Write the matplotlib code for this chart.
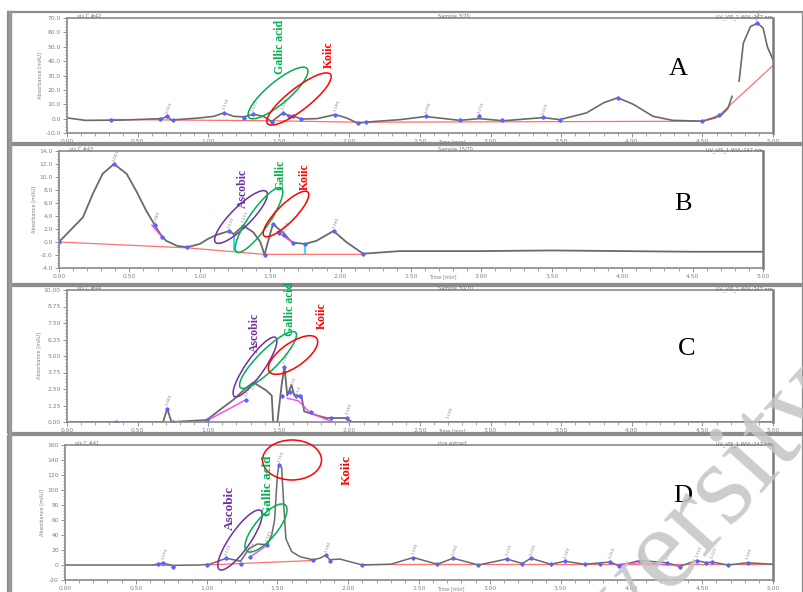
import matplotlib
matplotlib.use("Agg")
import matplotlib.pyplot as plt
from matplotlib.patches import Ellipse, Rectangle
from matplotlib.ticker import AutoMinorLocator

W, H = 804, 592

# ---- shared x axis (retention time, min)
x_ticks = [0.0, 0.5, 1.0, 1.5, 2.0, 2.5, 3.0, 3.5, 4.0, 4.5, 5.0]
x_tick_labels = ["0.00", "0.50", "1.00", "1.50", "2.00", "2.50", "3.00", "3.50", "4.00", "4.50", "5.00"]

# ---- panel A (Sample 3/70)
A_t = [0.00, 0.13, 0.40, 0.67, 0.71, 0.74, 0.94, 1.04, 1.11, 1.18, 1.25, 1.32, 1.39, 1.45,
       1.53, 1.58, 1.60, 1.66, 1.77, 1.90, 1.98, 2.06, 2.12, 2.36, 2.54, 2.78, 2.92, 3.09,
       3.37, 3.49, 3.68, 3.80, 3.90, 4.01, 4.15, 4.29, 4.50, 4.59, 4.64, 4.68, 4.71]
A_v = [0.5, -1.2, -1.0, 0.0, 1.5, -1.0, 0.5, 1.6, 4.0, 1.6, 1.2, 3.0, 1.6, -2.0,
       4.0, 1.6, 2.0, -0.3, 0.0, 2.8, 0.5, -3.2, -2.4, -0.7, 1.5, -1.2, 0.0, -1.5,
       0.7, -0.7, 4.0, 11.0, 14.5, 10.0, 1.6, -1.2, -1.8, 0.5, 3.0, 7.0, 15.5]
A2_t = [4.76, 4.79, 4.84, 4.89, 4.93, 4.96, 5.00]
A2_v = [26.0, 52.5, 64.0, 66.4, 63.0, 50.0, 41.0]
A_base_t = [0.30, 1.45, 2.06, 4.50, 4.62, 5.00]
A_base_v = [-0.6, -1.5, -2.5, -1.8, 2.5, 37.0]
A_mark_t = [0.31, 0.66, 0.71, 0.75, 1.11, 1.25, 1.32, 1.45, 1.53, 1.57, 1.60, 1.66, 1.90,
            2.06, 2.12, 2.54, 2.78, 2.92, 3.08, 3.37, 3.49, 3.90, 4.50, 4.62, 4.89]
A_mark_v = [-0.7, 0.0, 1.5, -1.0, 4.0, 0.5, 3.0, -2.0, 4.0, 1.8, 2.0, -0.3, 2.8,
            -3.2, -2.4, 1.5, -0.8, 1.5, -1.0, 1.0, -0.8, 14.5, -1.8, 2.5, 66.4]
A_lab_t = [0.71, 1.11, 1.32, 1.53, 1.90, 2.54, 2.92, 3.37, 4.89]
A_lab_v = [1.5, 4.0, 3.0, 4.0, 2.8, 1.5, 1.5, 1.0, 66.4]
A_lab = ["1.020", "1.110", "1.123", "1.143", "1.180", "1.200", "1.210", "1.220", "1.487"]

# ---- panel B (Sample 15/70)
B_t = [0.00, 0.17, 0.24, 0.31, 0.39, 0.48, 0.55, 0.62, 0.68, 0.72, 0.76, 0.84, 0.91, 1.00,
       1.06, 1.12, 1.21, 1.24, 1.31, 1.38, 1.43, 1.46, 1.48, 1.52, 1.56, 1.59, 1.63, 1.66,
       1.75, 1.83, 1.95, 2.04, 2.16, 2.42, 3.00, 3.50, 4.00, 4.50, 5.00]
B_v = [0.0, 3.8, 7.4, 10.5, 12.0, 10.5, 7.8, 4.8, 2.6, 1.2, 0.2, -0.6, -0.8, -0.3,
       0.5, 1.1, 1.7, 1.2, 2.5, 1.5, 0.0, -2.0, -0.3, 2.8, 2.0, 1.5, 0.5, -0.1,
       -0.3, 0.2, 1.7, 0.0, -1.8, -1.4, -1.4, -1.3, -1.4, -1.5, -1.5]
B_base_t = [0.00, 0.91, 1.46, 2.16]
B_base_v = [0.0, -0.9, -1.9, -1.9]
B_mark_t = [0.00, 0.39, 0.68, 0.73, 0.91, 1.21, 1.31, 1.46, 1.52, 1.56, 1.60, 1.66, 1.75, 1.95, 2.16]
B_mark_v = [0.0, 12.0, 2.6, 0.8, -0.8, 1.7, 2.5, -2.0, 2.8, 1.4, 1.0, -0.1, -0.3, 1.7, -1.8]
B_lab_t = [0.39, 0.68, 1.21, 1.31, 1.52, 1.60, 1.95]
B_lab_v = [12.0, 2.6, 1.7, 2.5, 2.8, 1.0, 1.7]
B_lab = ["1.043", "1.080", "1.110", "1.123", "1.143", "1.150", "1.180"]
B_cyan_t = [1.24, 1.75]
B_cyan_lo = [-1.6, -1.9]
B_cyan_hi = [1.0, -0.3]

# ---- panel C (Sample 30/70)
C_t = [0.00, 0.35, 0.68, 0.71, 0.74, 0.99, 1.08, 1.18, 1.27, 1.32, 1.35, 1.41, 1.45, 1.46,
       1.49, 1.52, 1.54, 1.56, 1.59, 1.61, 1.66, 1.68, 1.77, 1.84, 1.97, 2.02, 5.00]
C_v = [0.0, 0.0, 0.0, 1.0, 0.0, 0.15, 0.9, 1.7, 2.6, 3.0, 2.8, 2.4, 2.0, 0.0,
       0.0, 2.8, 4.2, 2.0, 2.8, 2.0, 2.0, 0.8, 0.5, 0.3, 0.3, 0.0, 0.0]
C_base_t = [0.35, 0.75]
C_base_v = [0.0, 0.0]
C_mag1_t = [0.99, 1.27]
C_mag1_v = [0.1, 1.7]
C_mag2_t = [1.56, 1.64, 1.72, 1.88]
C_mag2_v = [1.8, 1.6, 0.7, 0.0]
C_mark_t = [0.35, 0.71, 0.75, 0.99, 1.27, 1.54, 1.52, 1.58, 1.62, 1.65, 1.73, 1.87, 1.98]
C_mark_v = [0.0, 1.0, 0.0, 0.15, 1.7, 4.2, 2.0, 2.3, 2.0, 2.0, 0.75, 0.3, 0.3]
C_lab_t = [0.71, 1.27, 1.32, 1.54, 1.59, 1.62, 1.98, 2.70]
C_lab_v = [1.0, 1.7, 2.2, 4.2, 2.3, 1.6, 0.3, 0.0]
C_lab = ["1.080", "1.110", "1.123", "1.143", "1.150", "1.153", "1.180", "1.190"]

# ---- panel D (rice extract)
D_t = [0.00, 0.62, 0.69, 0.76, 0.95, 1.02, 1.14, 1.24, 1.30, 1.36, 1.43, 1.46, 1.48, 1.50,
       1.51, 1.53, 1.545, 1.56, 1.60, 1.66, 1.75, 1.80, 1.84, 1.87, 1.94, 2.00, 2.10, 2.30,
       2.46, 2.63, 2.74, 2.92, 3.12, 3.23, 3.29, 3.43, 3.53, 3.67, 3.85, 3.91, 4.06, 4.25,
       4.34, 4.46, 4.53, 4.57, 4.68, 4.82, 5.00]
D_v = [0, 0, 2.5, -0.5, 0, 1, 9, 5, 22, 28, 27, 40, 60, 120,
       133, 130, 80, 35, 18, 11, 7, 9, 13, 7, 8, 5, 0, 1,
       10, 1, 9, 0, 8, 2, 9, 1, 5, 1, 4, -1, 6, 3,
       -2, 6, 3, 4, 0, 3, 1]
D_base1_t = [0.62, 0.78]
D_base1_v = [0.0, -1.0]
D_base2_t = [1.00, 1.75]
D_base2_v = [0.0, 6.0]
D_base3_t = [2.10, 5.00]
D_base3_v = [1.0, 1.0]
D_mag_t = [1.31, 1.43]
D_mag_v = [11.0, 27.0]
D_mag2_t = [3.91, 4.06, 4.34]
D_mag2_v = [1.0, 3.0, -1.0]
D_mark_t = [0.66, 0.69, 0.76, 1.00, 1.14, 1.24, 1.31, 1.43, 1.51, 1.75, 1.84, 1.87, 2.10,
            2.46, 2.63, 2.74, 2.92, 3.12, 3.23, 3.29, 3.43, 3.53, 3.67, 3.78, 3.85, 3.91,
            4.06, 4.25, 4.34, 4.46, 4.53, 4.57, 4.68, 4.82]
D_mark_v = [1, 3, -2.5, 0, 9, 2, 11, 27, 133, 7, 13, 5, 0,
            10, 1, 9, 0, 8, 2, 9, 1, 5, 1, 2, 4, -1,
            6, 3, -2, 6, 3, 4, 0, 3]
D_lab_t = [0.69, 1.14, 1.31, 1.43, 1.51, 1.84, 2.46, 2.74, 3.12, 3.29, 3.53, 3.85, 4.06, 4.25, 4.46, 4.57, 4.82]
D_lab_v = [3, 9, 11, 27, 133, 13, 10, 9, 8, 9, 5, 4, 6, 3, 6, 4, 3]
D_lab = ["1.070", "1.110", "1.123", "1.143", "1.150", "1.180", "1.190", "1.200", "1.210",
         "1.220", "1.240", "1.260", "1.280", "1.300", "1.310", "1.320", "1.330"]

GREY = "#6a6a6a"
RED = "#ff7070"
BLUE = "#5a64ff"
MAG = "#ff40ff"
TICKC = "#808080"
PURPLE = "#7030a0"
GREEN = "#00b050"
TRED = "#ff0000"

fig = plt.figure(figsize=(W / 100, H / 100), dpi=100)
fig.patch.set_facecolor("white")


def px_axes(x0, y0, x1, y1):
    return fig.add_axes([x0 / W, 1 - y1 / H, (x1 - x0) / W, (y1 - y0) / H])


def setup(ax, box, ylim, yticks, ylabels):
    ax.set_xlim(0.0, 5.0)
    ax.set_ylim(*ylim)
    ax.set_xticks(x_ticks, x_tick_labels)
    ax.set_yticks(yticks, ylabels)
    ax.xaxis.set_minor_locator(AutoMinorLocator(5))
    ax.yaxis.set_minor_locator(AutoMinorLocator(5))
    ax.tick_params(axis="both", which="major", labelsize=4.3, colors=TICKC,
                   length=3, width=0.6, pad=1.5)
    ax.tick_params(axis="both", which="minor", length=1.8, width=0.5, colors=TICKC)
    for s in ax.spines.values():
        s.set_color("#8a8a8a")
        s.set_linewidth(1.2)
    ax.spines["right"].set_linewidth(1.8)
    ax.spines["right"].set_color("#7a7a7a")
    ax.set_ylabel("Absorbance [mAU]", fontsize=3.6, color=TICKC, labelpad=2)
    # "Time [min]" sits in the gap between the 2.50 and 3.00 tick labels
    x0, y0, x1, y1 = box
    fig.text((x0 + 0.525 * (x1 - x0)) / W, 1 - (y1 + 6) / H, "Time [min]",
             fontsize=3.6, color=TICKC, ha="left", va="top")


def peak_labels(ax, ts, vs, labs, dy):
    for t, v, s in zip(ts, vs, labs):
        ax.text(t + 0.01, v + dy, s, fontsize=3.2, color="#909090", rotation=68,
                ha="left", va="bottom", rotation_mode="anchor")


def header(x0, x1, ytop, left, mid):
    fig.text(x0 / W + 0.012, 1 - (ytop + 1) / H, left, fontsize=3.6, color="#707070",
             ha="left", va="top")
    fig.text(438 / W, 1 - (ytop + 1) / H, mid, fontsize=3.6, color="#707070",
             ha="left", va="top")
    fig.text(x1 / W, 1 - (ytop + 1) / H, "UV_VIS_1 WVL:247 nm", fontsize=3.6,
             color="#707070", ha="right", va="top")


# ---------- Panel A
boxA = (67, 18, 773, 133)
axA = px_axes(*boxA)
setup(axA, boxA, (-10, 70), [-10, 0, 10, 20, 30, 40, 50, 60, 70],
      ["-10.0", "0.0", "10.0", "20.0", "30.0", "40.0", "50.0", "60.0", "70.0"])
axA.plot(A_base_t, A_base_v, color=RED, lw=0.9)
axA.plot(A_t, A_v, color=GREY, lw=1.2)
axA.plot(A2_t, A2_v, color=GREY, lw=1.2)
axA.plot(A_mark_t, A_mark_v, ls="none", marker="D", ms=1.8, color=BLUE)
peak_labels(axA, A_lab_t, A_lab_v, A_lab, 1.5)
header(67, 773, 13, "vis C #42", "Sample 3/70")

# ---------- Panel B
boxB = (59, 151, 763, 268)
axB = px_axes(*boxB)
setup(axB, boxB, (-4, 14), [-4, -2, 0, 2, 4, 6, 8, 10, 12, 14],
      ["-4.0", "-2.0", "0.0", "2.0", "4.0", "6.0", "8.0", "10.0", "12.0", "14.0"])
axB.plot(B_base_t, B_base_v, color=RED, lw=0.9)
axB.vlines(B_cyan_t, B_cyan_lo, B_cyan_hi, color="#40e0f0", lw=1.6)
axB.plot(B_t, B_v, color=GREY, lw=1.3)
axB.plot([0.66, 0.73], [2.6, 0.8], color=MAG, lw=1.0)
axB.plot([1.55, 1.66], [1.6, -0.1], color=MAG, lw=1.0)
axB.plot(B_mark_t, B_mark_v, ls="none", marker="D", ms=1.8, color=BLUE)
peak_labels(axB, B_lab_t, B_lab_v, B_lab, 0.3)
header(59, 763, 146, "vis C #43", "Sample 15/70")

# ---------- Panel C
boxC = (67, 290, 773, 422)
axC = px_axes(*boxC)
setup(axC, boxC, (0, 10), [0, 1.25, 2.5, 3.75, 5.0, 6.25, 7.5, 8.75, 10.0],
      ["0.00", "1.25", "2.50", "3.75", "5.00", "6.25", "7.50", "8.75", "10.00"])
axC.plot(C_base_t, C_base_v, color="#e04040", lw=1.0)
axC.plot(C_t, C_v, color=GREY, lw=1.3)
axC.plot(C_mag1_t, C_mag1_v, color=MAG, lw=1.0)
axC.plot(C_mag2_t, C_mag2_v, color=MAG, lw=1.0)
axC.plot(C_mark_t, C_mark_v, ls="none", marker="D", ms=1.8, color=BLUE)
peak_labels(axC, C_lab_t, C_lab_v, C_lab, 0.2)
header(67, 773, 285, "vis C #44", "Sample 30/70")

# ---------- Panel D
boxD = (65, 445, 773, 580)
axD = px_axes(*boxD)
setup(axD, boxD, (-20, 160), [-20, 0, 20, 40, 60, 80, 100, 120, 140, 160],
      ["-20", "0", "20", "40", "60", "80", "100", "120", "140", "160"])
axD.plot(D_base1_t, D_base1_v, color=RED, lw=0.9)
axD.plot(D_base2_t, D_base2_v, color=RED, lw=0.9)
axD.plot(D_base3_t, D_base3_v, color=RED, lw=0.9)
axD.plot(D_t, D_v, color=GREY, lw=1.1)
axD.plot(D_mag_t, D_mag_v, color=MAG, lw=1.0)
axD.plot(D_mag2_t, D_mag2_v, color=MAG, lw=0.9)
axD.plot(D_mark_t, D_mark_v, ls="none", marker="D", ms=1.8, color=BLUE)
peak_labels(axD, D_lab_t, D_lab_v, D_lab, 3)
header(65, 773, 440, "vis C #41", "rice extract")

# ---------- overlay in pixel units (y down)
ov = fig.add_axes([0, 0, 1, 1])
ov.set_xlim(0, W)
ov.set_ylim(H, 0)
ov.axis("off")

# panel frames
for top, bot in [(12, 143), (145, 284), (286, 433), (435, 600)]:
    ov.add_patch(Rectangle((8, top), 795, bot - top, fill=False, ec="#8c8c8c", lw=1.6))
    ov.plot([10, 10], [top, bot], color="#9a9a9a", lw=2.5)

serif = ["Liberation Serif", "DejaVu Serif"]

# annotation ellipses (cx, cy, long, short, angle)
ellipses = [
    (278, 93, 76, 22, 40, GREEN), (299, 99, 80, 22, 38, TRED),
    (241, 217, 72, 20, 45, PURPLE), (259, 220, 78, 20, 55, GREEN), (286, 214, 62, 18, 45, TRED),
    (255, 367, 72, 18, 55, PURPLE), (268, 360, 78, 20, 45, GREEN), (293, 355, 58, 24, 35, TRED),
    (240, 540, 72, 20, 55, PURPLE), (266, 528, 60, 22, 50, GREEN), (292, 460, 59, 40, 0, TRED),
]
for cx, cy, w, h, ang, col in ellipses:
    ov.add_patch(Ellipse((cx, cy), w, h, angle=-ang, fill=False, ec=col, lw=1.1))

labels = [
    (280, 47, "Gallic acid", GREEN, 8.5), (329, 55, "Koiic", TRED, 8.5),
    (243, 188, "Ascobic", PURPLE, 8.5), (280, 175, "Gallic", GREEN, 8.5), (305, 177, "Koiic", TRED, 8.5),
    (255, 332, "Ascobic", PURPLE, 8.5), (290, 309, "Gallic acid", GREEN, 8.5), (322, 316, "Koiic", TRED, 8.5),
    (230, 508, "Ascobic", PURPLE, 9.5), (268, 486, "Gallic acid", GREEN, 9.5), (347, 470, "Koiic", TRED, 9.5),
]
for x, y, s, col, fs in labels:
    ov.text(x, y, s, color=col, fontsize=fs, fontweight="bold", family=serif,
            rotation=90, ha="center", va="center")

for x, y, s in [(678, 69, "A"), (683, 204, "B"), (687, 349, "C"), (683, 496, "D")]:
    ov.text(x, y, s, fontsize=19, family=serif, color="black", ha="center", va="center")

# watermark
ov.text(510, 770, "University", fontsize=85, family=serif, color="#c4c4c4", alpha=0.85,
        rotation=48, rotation_mode="anchor", ha="left", va="baseline", zorder=10)

fig.savefig("out.png", dpi=100)
